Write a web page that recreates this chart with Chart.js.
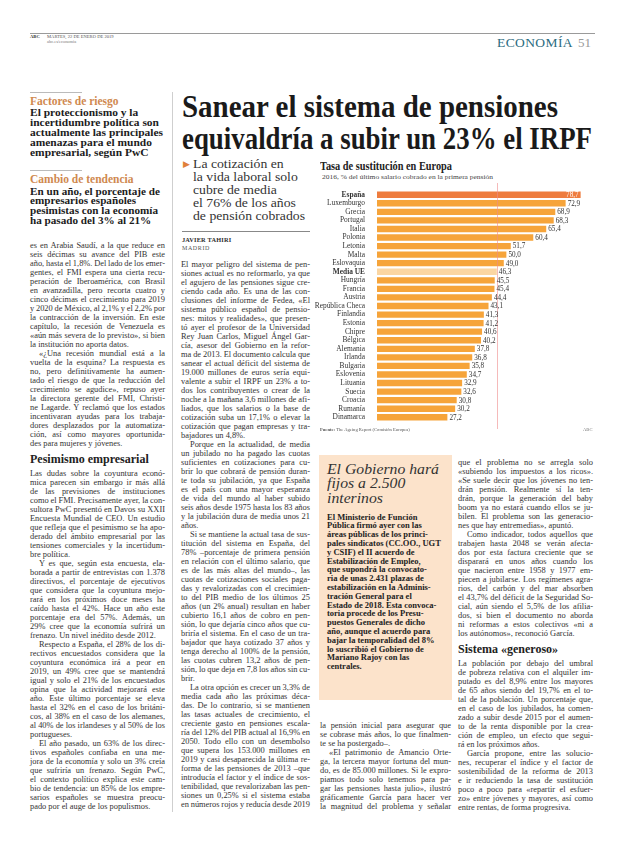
<!DOCTYPE html>
<html lang="es">
<head>
<meta charset="utf-8">
<script src="https://cdn.jsdelivr.net/npm/chart.js@4.4.1/dist/chart.umd.min.js"></script>
<style>
html, body { margin: 0; padding: 0; background: #fff; }
#page { position: relative; width: 620px; height: 846px; overflow: hidden;
        font-family: "Liberation Serif", serif; color: #2e2e2e; }
#page div { position: absolute; white-space: nowrap; }
.col div { position: relative !important; }
.ln { height: 9px; line-height: 9px; font-size: 8.4px; color: #333; }
.ln span, .fit span { display: inline-block; transform-origin: 0 50%; }
.hd { height: 21px; line-height: 22px; font-size: 12px; font-weight: bold; color: #222; }
.rule { background: #9a9a9a; height: 1px; }
</style>
</head>
<body>
<div id="page">
  <!-- cabecera -->
  <div class="rule" style="left:30px;top:33px;width:565px;"></div>
  <div style="left:30px;top:34px;font-size:4.6px;line-height:5px;font-weight:bold;">ABC</div>
  <div style="left:47px;top:34px;font-size:4.6px;line-height:5px;color:#555;">MARTES, 22 DE ENERO DE 2019</div>
  <div style="left:47px;top:39px;font-size:4.4px;line-height:5px;color:#777;">abc.es/economia</div>
  <div style="left:497px;top:36px;font-size:13.5px;line-height:14px;letter-spacing:0.4px;color:#2c6c80;">ECONOMÍA</div>
  <div style="left:578px;top:36px;font-size:13px;line-height:14px;color:#9a9a9a;">51</div>

  <!-- columna lateral -->
  <div class="rule" style="left:30px;top:92px;width:52px;background:#bbb;"></div>
  <div style="left:30px;top:95px;font-size:11.5px;line-height:12px;font-weight:bold;color:#d0894f;">Factores de riesgo</div>
  <div id="side1" class="fit" style="left:30px;top:107.5px;font-size:9.7px;line-height:10px;font-weight:bold;color:#1c1c1c;"></div>
  <div class="rule" style="left:30px;top:170px;width:52px;background:#bbb;"></div>
  <div style="left:30px;top:173px;font-size:11.5px;line-height:12px;font-weight:bold;color:#d0894f;">Cambio de tendencia</div>
  <div id="side2" class="fit" style="left:30px;top:186.5px;font-size:9.6px;line-height:9.9px;font-weight:bold;color:#1c1c1c;"></div>
  <div style="left:172px;top:92px;width:1px;height:720px;background:#cfcfcf;"></div>

  <!-- titular -->
  <div id="head" class="fit" style="left:182px;top:91px;font-size:31px;line-height:32px;font-weight:bold;color:#1a1a1a;"></div>

  <!-- entradilla -->
  <div style="left:183px;top:159px;font-size:9px;line-height:10px;color:#e0803a;">▶</div>
  <div id="deck" class="fit" style="left:193px;top:157.5px;font-size:12.5px;line-height:13px;color:#333;"></div>
  <div class="rule" style="left:182px;top:231px;width:128px;background:#888;"></div>
  <div style="left:182px;top:236px;font-size:6.3px;line-height:7px;font-weight:bold;letter-spacing:0.2px;">JAVIER TAHIRI</div>
  <div style="left:182px;top:244.5px;font-size:6px;line-height:7px;letter-spacing:0.6px;color:#555;">MADRID</div>

  <!-- gráfico -->
  <div id="ctitle" class="fit" style="left:320px;top:160px;font-size:11.5px;line-height:12px;font-weight:bold;color:#222;"><span>Tasa de sustitución en Europa</span></div>
  <div id="csub" class="fit" style="left:322px;top:173px;font-size:6.5px;line-height:7px;color:#444;"><span>2016, % del último salario cobrado en la primera pensión</span></div>
  <div style="left:311px;top:182px;"><canvas id="chart" width="285" height="248"></canvas></div>
  <div style="left:320px;top:427px;font-size:4.6px;line-height:5px;color:#555;"><b>Fuente:</b> The Ageing Report (Comisión Europea)</div>
  <div style="left:583px;top:427px;font-size:4.6px;line-height:5px;color:#777;">ABC</div>

  <!-- despiece -->
  <div style="left:319px;top:455px;width:133px;height:245px;background:#fce3cb;"></div>
  <div id="boxtitle" class="fit" style="left:327px;top:462.75px;font-size:14px;line-height:14.5px;font-style:italic;color:#333;"></div>
  <div id="boxbody" style="left:327px;top:512.6px;font-size:8.5px;line-height:8.8px;font-weight:bold;color:#222;"></div>
</div>

<script>
// ── datos del gráfico ─────────────────────────────────────────────────────────
const countries = ["España", "Luxemburgo", "Grecia", "Portugal", "Italia", "Polonia",
  "Letonia", "Malta", "Eslovaquia", "Media UE", "Hungría", "Francia", "Austria",
  "República Checa", "Finlandia", "Estonia", "Chipre", "Bélgica", "Alemania", "Irlanda",
  "Bulgaria", "Eslovenia", "Lituania", "Suecia", "Croacia", "Rumanía", "Dinamarca"];
const tasa = [78.7, 72.9, 68.9, 68.3, 65.4, 60.4, 51.7, 50.0, 49.0, 46.3, 45.5, 45.4, 44.4,
  43.1, 41.3, 41.2, 40.6, 40.2, 37.8, 36.8, 35.8, 34.7, 32.9, 32.6, 30.8, 30.2, 27.2];
const xMax = 80;

// ── textos ────────────────────────────────────────────────────────────────────
const headLines = ["Sanear el sistema de pensiones", "equivaldría a subir un 23% el IRPF"];
const side1 = ["El proteccionismo y la", "incertidumbre política son", "actualmente las principales",
  "amenazas para el mundo", "empresarial, según PwC"];
const side2 = ["En un año, el porcentaje de", "empresarios españoles",
  "pesimistas con la economía", "ha pasado del 3% al 21%"];
const deck = ["La cotización en", "la vida laboral solo", "cubre de media",
  "el 76% de los años", "de pensión cobrados"];
const boxTitle = ["El Gobierno hará", "fijos a 2.500", "interinos"];
const boxBody = ["El Ministerio de Función", "Pública firmó ayer con las",
  "áreas públicas de los princi-", "pales sindicatos (CC.OO., UGT", "y CSIF) el II acuerdo de",
  "Estabilización de Empleo,", "que supondrá la convocato-", "ria de unas 2.431 plazas de",
  "estabilización en la Adminis-", "tración General para el", "Estado de 2018. Esta convoca-",
  "toria procede de los Presu-", "puestos Generales de dicho", "año, aunque el acuerdo para",
  "bajar la temporalidad del 8%", "lo suscribió el Gobierno de", "Mariano Rajoy con las",
  "centrales."];

const colA = [
  "es en Arabia Saudí, a la que reduce en", "seis décimas su avance del PIB este",
  "año, hasta el 1,8%. Del lado de los emer-", "gentes, el FMI espera una cierta recu-",
  "peración de Iberoamérica, con Brasil", "en avanzadilla, pero recorta cuatro y",
  "cinco décimas el crecimiento para 2019", "y 2020 de México, al 2,1% y el 2,2% por",
  "la contracción de la inversión. En este", "capítulo, la recesión de Venezuela es",
  "«aún más severa de lo previsto», si bien", "la institución no aporta datos.¶",
  ">«¿Una recesión mundial está a la", "vuelta de la esquina? La respuesta es",
  "no, pero definitivamente ha aumen-", "tado el riesgo de que la reducción del",
  "crecimiento se agudice», repuso ayer", "la directora gerente del FMI, Christi-",
  "ne Lagarde. Y reclamó que los estados", "incentivaran ayudas para los trabaja-",
  "dores desplazados por la automatiza-", "ción, así como mayores oportunida-",
  "des para mujeres y jóvenes.¶",
  "#Pesimismo empresarial",
  "Las dudas sobre la coyuntura econó-", "mica parecen sin embargo ir más allá",
  "de las previsiones de instituciones", "como el FMI. Precisamente ayer, la con-",
  "sultora PwC presentó en Davos su XXII", "Encuesta Mundial de CEO. Un estudio",
  "que refleja que el pesimismo se ha apo-", "derado del ámbito empresarial por las",
  "tensiones comerciales y la incertidum-", "bre política.¶",
  ">Y es que, según esta encuesta, ela-", "borada a partir de entrevistas con 1.378",
  "directivos, el porcentaje de ejecutivos", "que considera que la coyuntura mejo-",
  "rará en los próximos doce meses ha", "caído hasta el 42%. Hace un año este",
  "porcentaje era del 57%. Además, un", "29% cree que la economía sufrirá un",
  "frenazo. Un nivel inédito desde 2012.¶",
  ">Respecto a España, el 28% de los di-", "rectivos encuestados considera que la",
  "coyuntura económica irá a peor en", "2019, un 49% cree que se mantendrá",
  "igual y solo el 21% de los encuestados", "opina que la actividad mejorará este",
  "año. Este último porcentaje se eleva", "hasta el 32% en el caso de los británi-",
  "cos, al 38% en el caso de los alemanes,", "al 40% de los irlandeses y al 50% de los",
  "portugueses.¶",
  ">El año pasado, un 63% de los direc-", "tivos españoles confiaba en una me-",
  "jora de la economía y solo un 3% creía", "que sufriría un frenazo. Según PwC,",
  "el contexto político explica este cam-", "bio de tendencia: un 85% de los empre-",
  "sarios españoles se muestra preocu-", "pado por el auge de los populismos.¶"];

const colB = [
  "El mayor peligro del sistema de pen-", "siones actual es no reformarlo, ya que",
  "el agujero de las pensiones sigue cre-", "ciendo cada año. Es una de las con-",
  "clusiones del informe de Fedea, «El", "sistema público español de pensio-",
  "nes: mitos y realidades», que presen-", "tó ayer el profesor de la Universidad",
  "Rey Juan Carlos, Miguel Ángel Gar-", "cía, asesor del Gobierno en la refor-",
  "ma de 2013. El documento calcula que", "sanear el actual déficit del sistema de",
  "19.000 millones de euros sería equi-", "valente a subir el IRPF un 23% a to-",
  "dos los contribuyentes o crear de la", "noche a la mañana 3,6 millones de afi-",
  "liados, que los salarios o la base de", "cotización suba un 17,1% o elevar la",
  "cotización que pagan empresas y tra-", "bajadores un 4,8%.¶",
  ">Porque en la actualidad, de media", "un jubilado no ha pagado las cuotas",
  "suficientes en cotizaciones para cu-", "brir lo que cobrará de pensión duran-",
  "te toda su jubilación, ya que España", "es el país con una mayor esperanza",
  "de vida del mundo al haber subido", "seis años desde 1975 hasta los 83 años",
  "y la jubilación dura de media unos 21", "años.¶",
  ">Si se mantiene la actual tasa de sus-", "titución del sistema en España, del",
  "78% –porcentaje de primera pensión", "en relación con el último salario, que",
  "es de las más altas del mundo–, las", "cuotas de cotizaciones sociales paga-",
  "das y revalorizadas con el crecimien-", "to del PIB medio de los últimos 25",
  "años (un 2% anual) resultan en haber", "cubierto 16,1 años de cobro en pen-",
  "sión, lo que dejaría cinco años que cu-", "briría el sistema. En el caso de un tra-",
  "bajador que haya cotizado 37 años y", "tenga derecho al 100% de la pensión,",
  "las cuotas cubren 13,2 años de pen-", "sión, lo que deja en 7,8 los años sin cu-",
  "brir.¶",
  ">La otra opción es crecer un 3,3% de", "media cada año las próximas déca-",
  "das. De lo contrario, si se mantienen", "las tasas actuales de crecimiento, el",
  "creciente gasto en pensiones escala-", "ría del 12% del PIB actual al 16,9% en",
  "2050. Todo ello con un desembolso", "que supera los 153.000 millones en",
  "2019 y casi desaparecida la última re-", "forma de las pensiones de 2013 –que",
  "introducía el factor y el índice de sos-", "tenibilidad, que revalorizaban las pen-",
  "siones un 0,25% si el sistema estaba", "en números rojos y reducía desde 2019"];

const colC = [
  "la pensión inicial para asegurar que", "se cobrase más años, lo que finalmen-",
  "te se ha postergado–.¶",
  ">«El patrimonio de Amancio Orte-", "ga, la tercera mayor fortuna del mun-",
  "do, es de 85.000 millones. Si le expro-", "piamos todo solo tenemos para pa-",
  "gar las pensiones hasta julio», ilustró", "gráficamente García para hacer ver",
  "la magnitud del problema y señalar"];

const colD = [
  "que el problema no se arregla solo", "«subiendo los impuestos a los ricos».",
  "«Se suele decir que los jóvenes no ten-", "drán pensión. Realmente sí la ten-",
  "drán, porque la generación del baby", "boom ya no estará cuando ellos se ju-",
  "bilen. El problema son las generacio-", "nes que hay entremedias», apuntó.¶",
  ">Como indicador, todos aquellos que", "trabajen hasta 2048 se verán afecta-",
  "dos por esta factura creciente que se", "disparará en unos años cuando los",
  "que nacieron entre 1958 y 1977 em-", "piecen a jubilarse. Los regímenes agra-",
  "rios, del carbón y del mar absorben", "el 43,7% del déficit de la Seguridad So-",
  "cial, aún siendo el 5,5% de los afilia-", "dos, si bien el documento no aborda",
  "ni reformas a estos colectivos «ni a", "los autónomos», reconoció García.¶",
  "#Sistema «generoso»",
  "La población por debajo del umbral", "de pobreza relativa con el alquiler im-",
  "putado es del 8,9% entre los mayores", "de 65 años siendo del 19,7% en el to-",
  "tal de la población. Un porcentaje que,", "en el caso de los jubilados, ha comen-",
  "zado a subir desde 2015 por el aumen-", "to de la renta disponible por la crea-",
  "ción de empleo, un efecto que segui-", "rá en los próximos años.¶",
  ">García propone, entre las solucio-", "nes, recuperar el índice y el factor de",
  "sostenibilidad de la reforma de 2013", "e ir reduciendo la tasa de sustitución",
  "poco a poco para «repartir el esfuer-", "zo» entre jóvenes y mayores, así como",
  "entre rentas, de forma progresiva.¶"];

// ── maquetación de texto ──────────────────────────────────────────────────────
const page = document.getElementById("page");
const pending = [];

function fillLines(id, lines) {
  const el = document.getElementById(id);
  el.innerHTML = lines.map(l => `<span>${l}</span>`).join("<br>");
  return el;
}

// escala un bloque entero para que su línea más larga mida `width`
function fitBlock(el, width) {
  const spans = [...el.querySelectorAll("span")];
  const maxW = Math.max(...spans.map(s => s.getBoundingClientRect().width));
  spans.forEach(s => { s.style.transform = `scaleX(${width / maxW})`; });
}

function shrinkBlock(el, width) {
  el.querySelectorAll("span").forEach(s => {
    const w = s.getBoundingClientRect().width;
    if (w > width) s.style.transform = `scaleX(${width / w})`;
  });
}

function buildColumn(left, top, width, lines) {
  const col = document.createElement("div");
  col.className = "col";
  col.style.left = left + "px";
  col.style.top = top + "px";
  col.style.width = width + "px";
  lines.forEach(raw => {
    const d = document.createElement("div");
    if (raw.startsWith("#")) {
      d.className = "hd";
      d.textContent = raw.slice(1);
      col.appendChild(d);
      return;
    }
    let s = raw, indent = 0, last = false;
    if (s.startsWith(">")) { indent = 9; s = s.slice(1); }
    if (s.endsWith("¶")) { last = true; s = s.slice(0, -1); }
    d.className = "ln";
    d.style.paddingLeft = indent + "px";
    const span = document.createElement("span");
    span.textContent = s;
    d.appendChild(span);
    col.appendChild(d);
    pending.push({ span, w: width - indent, justify: !last });
  });
  page.appendChild(col);
}

function justifyLine({ span, w, justify }) {
  const nat = span.getBoundingClientRect().width;
  const gaps = (span.textContent.match(/ /g) || []).length;
  if (justify && gaps) {
    const ws = (w - nat) / gaps;
    if (ws >= -1.1) { span.style.wordSpacing = ws + "px"; return; }
    span.style.wordSpacing = "-1.1px";
  }
  const now = span.getBoundingClientRect().width;
  if (now > w || (justify && gaps)) span.style.transform = `scaleX(${w / now})`;
}

const head = fillLines("head", headLines);
const heads = [...head.querySelectorAll("span")];
[376, 410].forEach((target, i) => {
  heads[i].style.transform = `scaleX(${target / heads[i].getBoundingClientRect().width})`;
});

fitBlock(fillLines("side1", side1), 133);
fitBlock(fillLines("side2", side2), 130);
fitBlock(fillLines("deck", deck), 112);
fitBlock(fillLines("boxtitle", boxTitle), 112);
shrinkBlock(fillLines("boxbody", boxBody), 121);
fitBlock(document.getElementById("ctitle"), 132);
fitBlock(document.getElementById("csub"), 171);

buildColumn(30, 240.5, 135, colA);
buildColumn(181, 259.5, 129, colB);
buildColumn(320, 720.5, 131, colC);
buildColumn(458, 457.5, 135, colD);
pending.forEach(justifyLine);

// ── gráfico ───────────────────────────────────────────────────────────────────
const mediaIdx = countries.indexOf("Media UE");
const barColors = countries.map((c, i) =>
  i === 0 ? "#ee7c3e" : i === mediaIdx ? "#fbd6a2" : "#f6a43a");

const mediaLine = {
  id: "mediaLine",
  afterDatasetsDraw(chart) {
    const { ctx } = chart;
    const x = Math.round(chart.scales.x.getPixelForValue(tasa[mediaIdx])) + 0.5;
    ctx.save();
    ctx.strokeStyle = "rgba(238,140,140,0.6)";
    ctx.lineWidth = 1;
    ctx.beginPath();
    ctx.moveTo(x, 1);
    ctx.lineTo(x, chart.height - 1);
    ctx.stroke();
    ctx.restore();
  }
};

const valueLabels = {
  id: "valueLabels",
  afterDatasetsDraw(chart) {
    const { ctx } = chart;
    const meta = chart.getDatasetMeta(0);
    ctx.save();
    ctx.font = "7.2px 'Liberation Serif'";
    ctx.textBaseline = "middle";
    meta.data.forEach((bar, i) => {
      const txt = tasa[i].toFixed(1).replace(".", ",");
      if (i === 0) {
        ctx.fillStyle = "#fff";
        ctx.textAlign = "right";
        ctx.fillText(txt, bar.x - 2, bar.y + 0.5);
      } else {
        ctx.fillStyle = "#333";
        ctx.textAlign = "left";
        ctx.fillText(txt, bar.x + 2, bar.y + 0.5);
      }
    });
    ctx.restore();
  }
};

new Chart(document.getElementById("chart"), {
  type: "bar",
  data: {
    labels: countries,
    datasets: [{
      data: tasa,
      backgroundColor: barColors,
      borderWidth: 0,
      barPercentage: 0.74,
      categoryPercentage: 1,
    }],
  },
  options: {
    indexAxis: "y",
    responsive: false,
    animation: false,
    layout: { padding: { top: 5, bottom: 5, left: 0, right: 12 } },
    plugins: { legend: { display: false }, tooltip: { enabled: false } },
    scales: {
      x: { display: false, min: 0, max: xMax },
      y: {
        grid: { display: false },
        border: { display: false },
        ticks: {
          autoSkip: false,
          padding: 4,
          color: "#333",
          font: c => ({
            family: "Liberation Serif",
            size: 7.4,
            weight: (c.index === 0 || c.index === mediaIdx) ? "bold" : "normal",
          }),
        },
        afterFit(scale) { scale.width = 66; },
      },
    },
  },
  plugins: [mediaLine, valueLabels],
});
</script>
</body>
</html>
